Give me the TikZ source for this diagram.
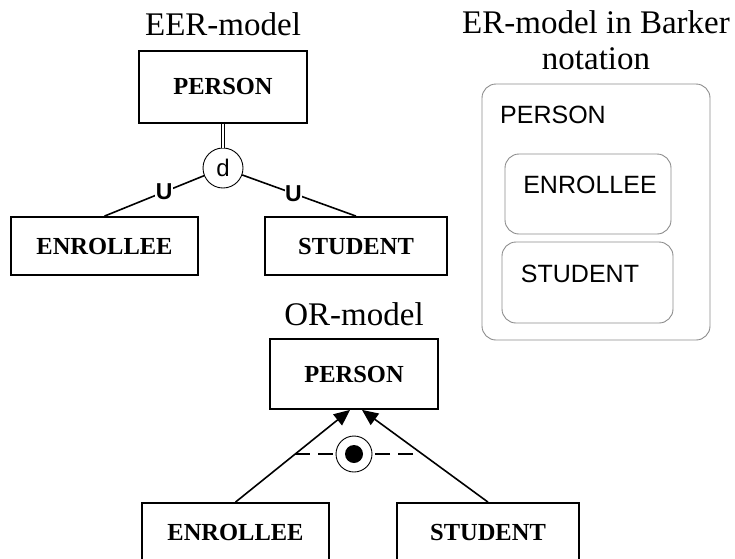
\documentclass[tikz,border=0pt]{standalone}
\usepackage{fontspec}
\setmainfont{Liberation Serif}
\setsansfont{Liberation Sans}
\usetikzlibrary{arrows.meta}

\begin{document}
\begin{tikzpicture}[x=1pt,y=-1pt,
  ent/.style={rectangle,draw=black,line width=1.8pt,inner sep=0pt,font=\fontsize{24.5}{26}\selectfont\bfseries},
  title/.style={font=\fontsize{33}{36}\selectfont,align=center,inner sep=0pt},
  disj/.style={circle,draw=black,line width=0.9pt,fill=white,minimum size=40pt,inner sep=0pt,font=\fontsize{24}{26}\selectfont\sffamily},
  subs/.style={fill=white,inner sep=0.5pt,font=\fontsize{23}{25}\selectfont\sffamily\bfseries},
  bark/.style={rectangle,draw=black!45,line width=0.9pt,rounded corners=14pt,inner sep=0pt},
  btext/.style={font=\fontsize{25}{27}\selectfont\sffamily},
  isa/.style={line width=1.6pt,-{Triangle[length=16pt,width=14pt]}}]

  \useasboundingbox (0,0) rectangle (735,558);
  \clip (0,0) rectangle (735,558);

  % EER-model
  \node[title,anchor=base] at (223,35) (eertitle) {EER-model};
  \node[ent,minimum width=168pt,minimum height=72pt] at (223,87)    (person1)   {PERSON};
  \node[disj]                                        at (223,168)   (disj1)     {d};
  \node[ent,minimum width=187pt,minimum height=58pt] at (104.5,246) (enrollee1) {ENROLLEE};
  \node[ent,minimum width=182pt,minimum height=58pt] at (356,246)   (student1)  {STUDENT};

  \draw[double,double distance=2pt,line width=1.2pt] (person1) -- (disj1) ;
  \draw[line width=1.6pt] (disj1) -- node[subs,pos=0.4]  (subs1) {U} (enrollee1.north) ;
  \draw[line width=1.6pt] (disj1) -- node[subs,pos=0.45] (subs2) {U} (student1.north) ;

  % ER-model in Barker notation
  \node[title,anchor=north] at (596,10) (barktitle) {ER-model in Barker\\notation};
  \node[bark,minimum width=228pt,minimum height=256pt] at (596,212)     (barkperson)  {};
  \node[btext] at (553,115) (barkpersonlbl) {PERSON};
  \node[bark,minimum width=166pt,minimum height=80pt]  at (588,194)     (barkenrollee) {};
  \node[btext] at (590,185) (barkenrolleelbl) {ENROLLEE};
  \node[bark,minimum width=171pt,minimum height=81pt]  at (587.5,282.5) (barkstudent) {};
  \node[btext] at (580,274) (barkstudentlbl) {STUDENT};

  % OR-model
  \node[title,anchor=base] at (354,325) (ortitle) {OR-model};
  \node[ent,minimum width=168pt,minimum height=70pt] at (354,374)   (person2)   {PERSON};
  \node[ent,minimum width=187pt,minimum height=58pt] at (235.5,532) (enrollee2) {ENROLLEE};
  \node[ent,minimum width=182pt,minimum height=58pt] at (488,532)   (student2)  {STUDENT};

  \draw[isa] (enrollee2.north) -- ([xshift=-4pt]person2.south) ;
  \draw[isa] (student2.north)  -- ([xshift=8pt]person2.south) ;

  \coordinate (dashl) at (295,454) ;
  \coordinate (dashr) at (413,454) ;
  \node[circle,draw=black,line width=0.9pt,fill=white,minimum size=36pt,inner sep=0pt] at (354,454) (orc) {};
  \node[circle,fill=black,minimum size=18pt,inner sep=0pt] at (orc.center) (ordot) {};
  \draw[line width=1.4pt,dash pattern=on 15pt off 8pt] (dashl) -- (orc) ;
  \draw[line width=1.4pt,dash pattern=on 15pt off 8pt] (dashr) -- (orc) ;

\end{tikzpicture}
\end{document}
